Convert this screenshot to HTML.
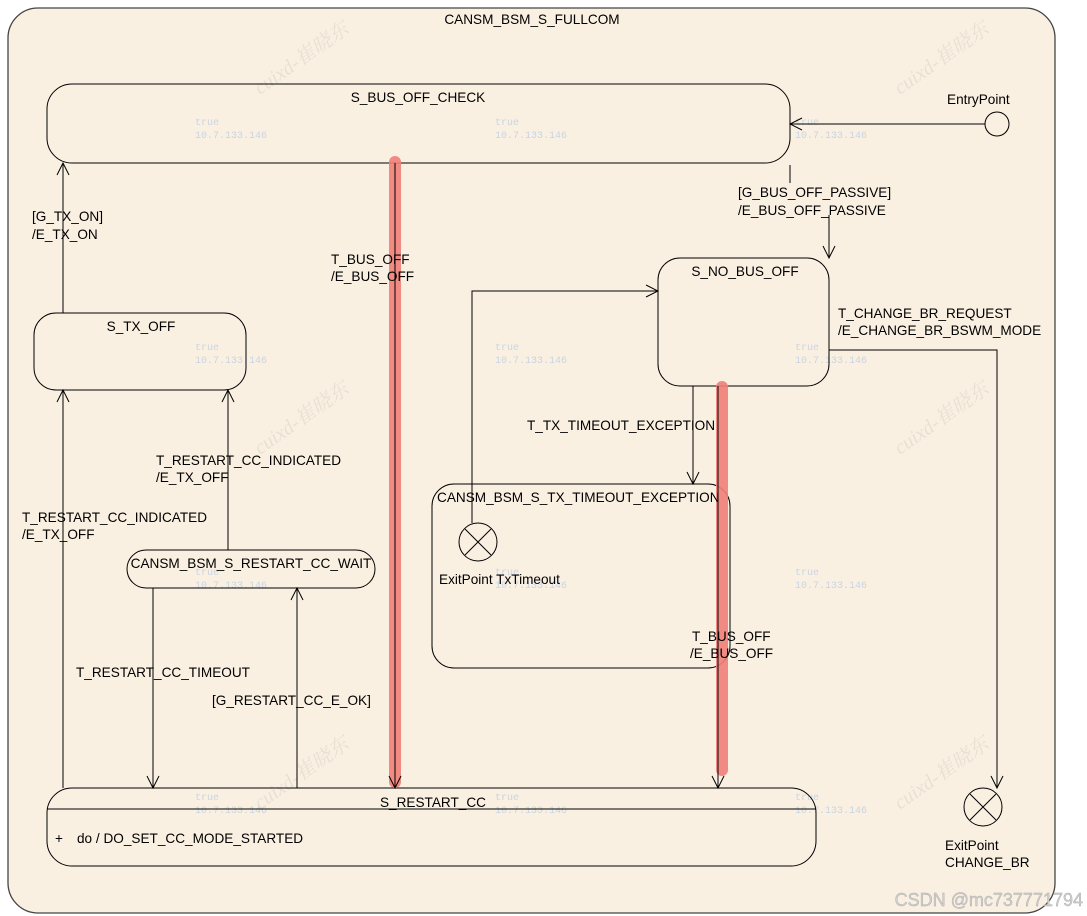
<!DOCTYPE html>
<html><head><meta charset="utf-8"><style>
html,body{margin:0;padding:0;background:#fff}
svg{display:block;font-family:"Liberation Sans","Noto Sans CJK SC",sans-serif}
.t{font-size:13.6px;fill:#000}
.w{font-family:"Liberation Mono",monospace;font-size:10px;fill:#c8d4e4}
.wm{font-family:"Liberation Serif","Noto Serif CJK SC",serif;font-size:20px;fill:#e8e0d6;font-style:italic}
</style></head><body>
<svg width="1087" height="916" viewBox="0 0 1087 916">
<defs><marker id="a" markerWidth="14" markerHeight="14" refX="0" refY="0" orient="auto" markerUnits="userSpaceOnUse" viewBox="-13 -7 14 14">
<path d="M-12,-6 L0,0 L-12,6" fill="none" stroke="#000" stroke-width="1"/></marker></defs>
<rect x="8" y="8" width="1047" height="905" rx="30" fill="#faf0e2" stroke="#444" stroke-width="1.3"/>
<text class="t" x="532" y="24" text-anchor="middle">CANSM_BSM_S_FULLCOM</text>
<g class="wm">
<text transform="translate(260,95) rotate(-35)">cuixd-崔晓东</text>
<text transform="translate(900,95) rotate(-35)">cuixd-崔晓东</text>
<text transform="translate(260,455) rotate(-35)">cuixd-崔晓东</text>
<text transform="translate(900,455) rotate(-35)">cuixd-崔晓东</text>
<text transform="translate(260,810) rotate(-35)">cuixd-崔晓东</text>
<text transform="translate(900,810) rotate(-35)">cuixd-崔晓东</text>
</g>
<g class="w">
<text x="195" y="125">true</text><text x="195" y="138">10.7.133.146</text>
<text x="495" y="125">true</text><text x="495" y="138">10.7.133.146</text>
<text x="795" y="125">true</text><text x="795" y="138">10.7.133.146</text>
<text x="195" y="350">true</text><text x="195" y="363">10.7.133.146</text>
<text x="495" y="350">true</text><text x="495" y="363">10.7.133.146</text>
<text x="795" y="350">true</text><text x="795" y="363">10.7.133.146</text>
<text x="195" y="575">true</text><text x="195" y="588">10.7.133.146</text>
<text x="495" y="575">true</text><text x="495" y="588">10.7.133.146</text>
<text x="795" y="575">true</text><text x="795" y="588">10.7.133.146</text>
<text x="195" y="800">true</text><text x="195" y="813">10.7.133.146</text>
<text x="495" y="800">true</text><text x="495" y="813">10.7.133.146</text>
<text x="795" y="800">true</text><text x="795" y="813">10.7.133.146</text>
</g>
<g fill="none" stroke="#000" stroke-width="1">
<rect x="47" y="84" width="743" height="79" rx="25"/>
<rect x="658" y="258" width="171" height="128" rx="22"/>
<rect x="34" y="313" width="212" height="77" rx="22"/>
<rect x="127" y="550" width="248" height="38" rx="19"/>
<rect x="432" y="484" width="298" height="184" rx="22"/>
<rect x="47" y="788" width="769" height="78" rx="25"/>
<line x1="47" y1="809" x2="816" y2="809"/>
<circle cx="997" cy="124" r="12"/>
<circle cx="478" cy="542" r="19"/>
<path d="M465,529 L491,555 M491,529 L465,555"/>
<circle cx="983" cy="807" r="19"/>
<path d="M970,794 L996,820 M996,794 L970,820"/>
</g>
<g stroke="#f08078" stroke-width="12" stroke-linecap="round" opacity="0.9">
<line x1="395" y1="162" x2="395" y2="782"/>
<line x1="722" y1="387" x2="722" y2="770"/>
</g>
<g fill="none" stroke="#000" stroke-width="1">
<line x1="985" y1="124" x2="790" y2="124" marker-end="url(#a)"/>
<line x1="790" y1="165" x2="790" y2="183"/>
<line x1="829" y1="215" x2="829" y2="258" marker-end="url(#a)"/>
<line x1="63" y1="313" x2="63" y2="163" marker-end="url(#a)"/>
<line x1="63" y1="788" x2="63" y2="390" marker-end="url(#a)"/>
<line x1="228" y1="550" x2="228" y2="390" marker-end="url(#a)"/>
<line x1="153" y1="588" x2="153" y2="788" marker-end="url(#a)"/>
<line x1="297" y1="788" x2="297" y2="588" marker-end="url(#a)"/>
<line x1="395" y1="163" x2="395" y2="788" marker-end="url(#a)"/>
<line x1="718" y1="386" x2="718" y2="788" marker-end="url(#a)"/>
<line x1="693" y1="386" x2="693" y2="484" marker-end="url(#a)"/>
<polyline points="472,523 472,291 658,291" marker-end="url(#a)"/>
<polyline points="829,350 997,350 997,788" marker-end="url(#a)"/>
</g>
<g class="t">
<text x="418" y="102" text-anchor="middle">S_BUS_OFF_CHECK</text>
<text x="947" y="104">EntryPoint</text>
<text x="738" y="197">[G_BUS_OFF_PASSIVE]</text>
<text x="738" y="215">/E_BUS_OFF_PASSIVE</text>
<text x="745" y="276" text-anchor="middle">S_NO_BUS_OFF</text>
<text x="838" y="318">T_CHANGE_BR_REQUEST</text>
<text x="838" y="335">/E_CHANGE_BR_BSWM_MODE</text>
<text x="32" y="221">[G_TX_ON]</text>
<text x="32" y="239">/E_TX_ON</text>
<text x="331" y="264">T_BUS_OFF</text>
<text x="331" y="281">/E_BUS_OFF</text>
<text x="141" y="331" text-anchor="middle">S_TX_OFF</text>
<text x="527" y="430">T_TX_TIMEOUT_EXCEPTION</text>
<text x="156" y="465">T_RESTART_CC_INDICATED</text>
<text x="156" y="482">/E_TX_OFF</text>
<text x="437" y="502">CANSM_BSM_S_TX_TIMEOUT_EXCEPTION</text>
<text x="22" y="522">T_RESTART_CC_INDICATED</text>
<text x="22" y="539">/E_TX_OFF</text>
<text x="251" y="568" text-anchor="middle">CANSM_BSM_S_RESTART_CC_WAIT</text>
<text x="439" y="584">ExitPoint TxTimeout</text>
<text x="692" y="641">T_BUS_OFF</text>
<text x="690" y="658">/E_BUS_OFF</text>
<text x="76" y="677">T_RESTART_CC_TIMEOUT</text>
<text x="212" y="705">[G_RESTART_CC_E_OK]</text>
<text x="433" y="807" text-anchor="middle">S_RESTART_CC</text>
<text x="55" y="843">+</text>
<text x="77" y="843">do / DO_SET_CC_MODE_STARTED</text>
<text x="945" y="850">ExitPoint</text>
<text x="945" y="867">CHANGE_BR</text>
</g>
<text x="1083" y="906" text-anchor="end" font-size="18" fill="#d0d0d0" stroke="#aaa" stroke-width="0.4">CSDN @mc737771794</text>
</svg>
</body></html>
